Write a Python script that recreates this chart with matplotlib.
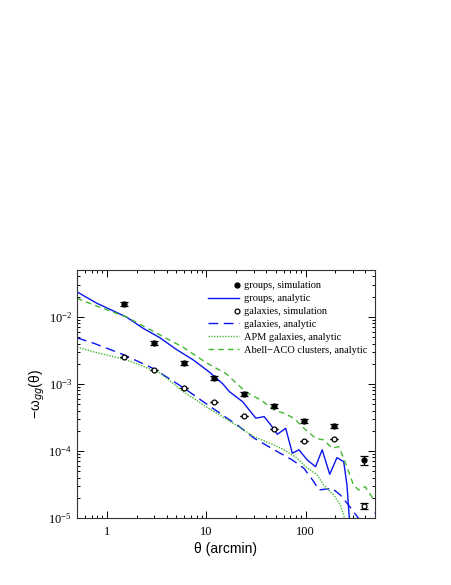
import matplotlib
matplotlib.use("Agg")
import matplotlib.pyplot as plt
from matplotlib.lines import Line2D
from matplotlib.legend_handler import HandlerLine2D
from matplotlib.ticker import LogLocator, NullFormatter, FixedLocator, FixedFormatter

plt.rcParams['font.family'] = ['Liberation Serif', 'DejaVu Serif']
plt.rcParams['mathtext.fontset'] = 'stix'

# ---- data ----
sim_theta = [1.5, 3, 6, 12, 24, 48, 96, 192, 384]
groups_sim = [0.0158, 0.00413, 0.00204, 0.00122, 7.1e-4, 4.7e-4, 2.83e-4, 2.36e-4, 7.3e-5]
groups_sim_err = [0.0011, 0.00028, 0.00014, 0.00008, 5e-5, 3.3e-5, 2e-5, 1.7e-5, 1.1e-5]
gal_sim = [2.55e-3, 1.63e-3, 8.8e-4, 5.4e-4, 3.3e-4, 2.15e-4, 1.40e-4, 1.50e-4, 1.51e-5]
gal_sim_err = [0, 0, 0, 0, 0, 0, 0, 0, 1.4e-6]

groups_an_theta = [0.5, 0.79, 1.58, 2.3, 3.4, 5.0, 7.4, 10.7, 14.7, 17.1, 23.2, 27.1, 31.6,
                   38.3, 44.7, 52.0, 63.1, 73.5, 85.7, 104, 126, 147, 175, 207, 242, 261, 285]
groups_an = [0.0236, 0.0160, 0.0099, 0.0068, 0.0049, 0.00327, 0.00228, 0.00151, 0.00100,
             7.67e-4, 5.44e-4, 4.09e-4, 3.08e-4, 3.25e-4, 2.44e-4, 1.77e-4, 2.18e-4, 9.25e-5,
             1.04e-4, 7.34e-5, 5.83e-5, 1.04e-4, 4.49e-5, 7.94e-5, 6.92e-5, 3.11e-5, 5e-6]

gal_an_theta = [0.5, 0.734, 1.49, 2.97, 5.93, 10.07, 21.5, 30.4, 48.2, 73.5, 96.2, 121, 136,
                185, 224, 271, 341, 380, 440, 500]
gal_an = [4.86e-3, 4.05e-3, 2.71e-3, 1.68e-3, 8.71e-4, 5.02e-4, 2.31e-4, 1.55e-4, 1.04e-4,
          7.34e-5, 5.52e-5, 3.48e-5, 2.62e-5, 2.77e-5, 2.20e-5, 1.56e-5, 9.9e-6, 6e-6, 7e-6, 1.2e-5]

apm_theta = [0.5, 0.734, 1.585, 3.41, 5.93, 10.07, 21.5, 30.4, 48.2, 60.7, 82.4, 100, 131,
             152, 192, 224, 242, 259]
apm_an = [3.56e-3, 3.01e-3, 2.28e-3, 1.46e-3, 7.6e-4, 4.54e-4, 2.26e-4, 1.63e-4, 1.23e-4,
          1.04e-4, 7.78e-5, 5.83e-5, 4.39e-5, 3.11e-5, 2.20e-5, 1.56e-5, 1.11e-5, 6.6e-6]

abell_theta = [0.5, 0.734, 1.585, 3.41, 5.79, 10.07, 15.96, 21.5, 25.9, 35.5, 48.2, 60.7, 76.4,
               96.2, 126, 152, 185, 215, 242, 271, 304, 341, 398, 463, 501]
abell_an = [0.0190, 0.0151, 0.0099, 0.00539, 0.00356, 0.00206, 0.00141, 9.33e-4, 7.34e-4,
            5.77e-4, 4.09e-4, 3.65e-4, 3.08e-4, 2.18e-4, 1.55e-4, 1.46e-4, 1.10e-4, 1.16e-4,
            7.78e-5, 4.91e-5, 3.11e-5, 2.62e-5, 2.93e-5, 2.08e-5, 1.86e-5]

legend_labels = ['groups, simulation', 'groups, analytic', 'galaxies, simulation',
                 'galaxies, analytic', 'APM galaxies, analytic', 'Abell\u2212ACO clusters, analytic']

xticks = [1, 10, 100]
xticklabels = ['1', '10', '100']

blue = '#0a14f0'
green = '#44b832'


class RightMarkerHandler(HandlerLine2D):
    """Legend sample with a single marker at the right end of the sample area."""
    def get_numpoints(self, legend):
        return 2

    def get_xdata(self, legend, xdescent, ydescent, width, height, fontsize):
        x = [-xdescent + width - 1.5]
        return x, x


fig = plt.figure(figsize=(4.52, 5.85), dpi=100)
ax = fig.add_axes([77/452, 67/585, 298/452, 248/585])

ax.errorbar(sim_theta, groups_sim, yerr=groups_sim_err, fmt='o', color='black',
            ms=3.5, capsize=3, elinewidth=0.9, capthick=0.9, zorder=5)
l_gan, = ax.plot(groups_an_theta, groups_an, '-', color=blue, lw=1.0)
ax.errorbar(sim_theta, gal_sim, yerr=gal_sim_err, fmt='o', mfc='white', mec='black', mew=0.9,
            color='black', ms=3.5, capsize=3, elinewidth=0.9, capthick=0.9, zorder=5)
l_galan, = ax.plot(gal_an_theta, gal_an, color=blue, lw=1.0, dashes=(7, 4))
l_apm, = ax.plot(apm_theta, apm_an, color=green, lw=1.0, dashes=(1, 1))
l_abell, = ax.plot(abell_theta, abell_an, color=green, lw=1.0, dashes=(4, 3))

h_gsim = Line2D([], [], ls='none', marker='o', color='black', ms=3.5)
h_galsim = Line2D([], [], ls='none', marker='o', mfc='white', mec='black', mew=0.9, ms=3.5)

ax.set_xscale('log')
ax.set_yscale('log')
ax.set_xlim(0.5, 500)
ax.set_ylim(1e-5, 0.05)

ax.xaxis.set_major_locator(FixedLocator(xticks))
ax.xaxis.set_major_formatter(FixedFormatter(xticklabels))
ax.xaxis.set_minor_locator(LogLocator(base=10, subs=range(2, 10), numticks=20))
ax.xaxis.set_minor_formatter(NullFormatter())
ax.yaxis.set_major_locator(LogLocator(base=10, numticks=10))
ax.yaxis.set_minor_locator(LogLocator(base=10, subs=range(2, 10), numticks=20))
ax.yaxis.set_minor_formatter(NullFormatter())

ax.tick_params(which='both', direction='in', top=True, right=True, labelsize=9, width=0.7)
ax.tick_params(which='major', length=5)
ax.tick_params(which='minor', length=2.5)
ax.tick_params(axis='x', pad=6)
for s in ax.spines.values():
    s.set_linewidth(0.8)
    s.set_color('#333333')

ax.set_xlabel('θ (arcmin)', fontsize=10, family=['Liberation Sans', 'DejaVu Sans'], labelpad=3)
ax.set_ylabel('\u2212ω$_{gg}$(θ)', fontsize=10, family=['Liberation Sans', 'DejaVu Sans'],
              math_fontfamily='dejavusans', labelpad=1)

handles = [h_gsim, l_gan, h_galsim, l_galan, l_apm, l_abell]
ax.legend(handles, legend_labels, loc='upper right', frameon=False, fontsize=7.5,
          handlelength=3.0, handletextpad=0.5, labelspacing=0.35,
          borderaxespad=0.3, bbox_to_anchor=(1.0, 0.985),
          handler_map={h_gsim: RightMarkerHandler(), h_galsim: RightMarkerHandler()})

fig.savefig('out.png', dpi=100)
